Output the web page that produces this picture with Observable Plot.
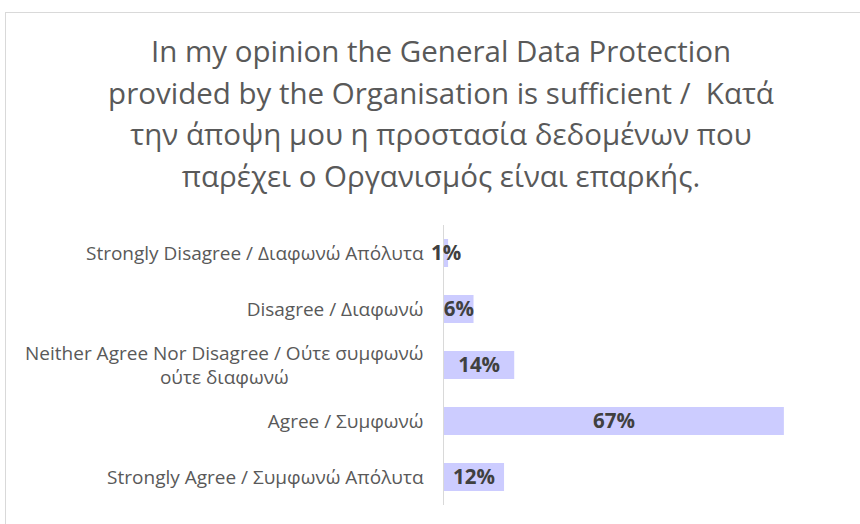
<!DOCTYPE html>
<html>
<head>
<meta charset="utf-8">
<script src="https://cdn.jsdelivr.net/npm/d3@7"></script>
<script src="https://cdn.jsdelivr.net/npm/@observablehq/plot@0.6"></script>
<style>
  html, body { margin: 0; padding: 0; background: #fff; width: 860px; height: 524px; overflow: hidden; }
  #frame { position: absolute; left: 5px; top: 12px; width: 900px; height: 600px; border: 1px solid #d9d9d9; box-sizing: border-box; }
  #title { position: absolute; left: 0; top: 30px; width: 882px; text-align: center; font-family: "Open Sans", sans-serif; font-size: 29.5px; line-height: 41.5px; color: #595959; white-space: pre; }
  #chart { position: absolute; left: 0; top: 215px; }
</style>
</head>
<body>
<div id="frame"></div>
<div id="title"></div>
<div id="chart"></div>
<script>
const titleLines = [
  "In my opinion the General Data Protection",
  "provided by the Organisation is sufficient /  Κατά",
  "την άποψη μου η προστασία δεδομένων που",
  "παρέχει ο Οργανισμός είναι επαρκής."
];
const categories = [
  "Strongly Disagree / Διαφωνώ Απόλυτα",
  "Disagree / Διαφωνώ",
  "Neither Agree Nor Disagree / Ούτε συμφωνώ ούτε διαφωνώ",
  "Agree / Συμφωνώ",
  "Strongly Agree / Συμφωνώ Απόλυτα"
];
const labelLines = [
  ["Strongly Disagree / Διαφωνώ Απόλυτα"],
  ["Disagree / Διαφωνώ"],
  ["Neither Agree Nor Disagree / Ούτε συμφωνώ", "ούτε διαφωνώ"],
  ["Agree / Συμφωνώ"],
  ["Strongly Agree / Συμφωνώ Απόλυτα"]
];
const values = [1, 6, 14, 67, 12];

document.getElementById("title").textContent = titleLines.join("\n");

const data = categories.map((c, i) => ({cat: c, value: values[i], lines: labelLines[i]}));
const singles = data.filter(d => d.lines.length === 1);
const multis = data.filter(d => d.lines.length > 1);

const labelSize = 19;
const ctx = document.createElement("canvas").getContext("2d");
ctx.font = labelSize + "px 'Open Sans'";
const firstW = multis.length ? ctx.measureText(multis[0].lines[0]).width : 0;

const chart = Plot.plot({
  width: 860,
  height: 305,
  marginLeft: 443,
  marginRight: 10,
  marginTop: 10,
  marginBottom: 15,
  style: { fontFamily: "'Open Sans', sans-serif", background: "transparent", overflow: "visible" },
  x: { domain: [0, 80], axis: null },
  y: { domain: categories, axis: null, paddingInner: 0.5, paddingOuter: 0.25 },
  marks: [
    Plot.barX(data, { x: "value", y: "cat", fill: "#ccccff" }),
    Plot.ruleX([0], { stroke: "#d9d9d9", strokeWidth: 1 }),
    Plot.text(data, { x: d => d.value / 2, y: "cat", text: d => d.value + "%", fontWeight: "bold", fontSize: 20.5, fill: "#404040" }),
    Plot.text(singles, { x: 0, y: "cat", text: d => d.lines[0], textAnchor: "end", dx: -20, fontSize: labelSize, fill: "#595959" }),
    Plot.text(multis, { x: 0, y: "cat", text: d => d.lines[0], textAnchor: "end", dx: -20, dy: -11.5, fontSize: labelSize, fill: "#595959" }),
    Plot.text(multis, { x: 0, y: "cat", text: d => d.lines[1], textAnchor: "middle", dx: -20 - firstW / 2, dy: 12, fontSize: labelSize, fill: "#595959" })
  ]
});
document.getElementById("chart").appendChild(chart);
</script>
</body>
</html>
